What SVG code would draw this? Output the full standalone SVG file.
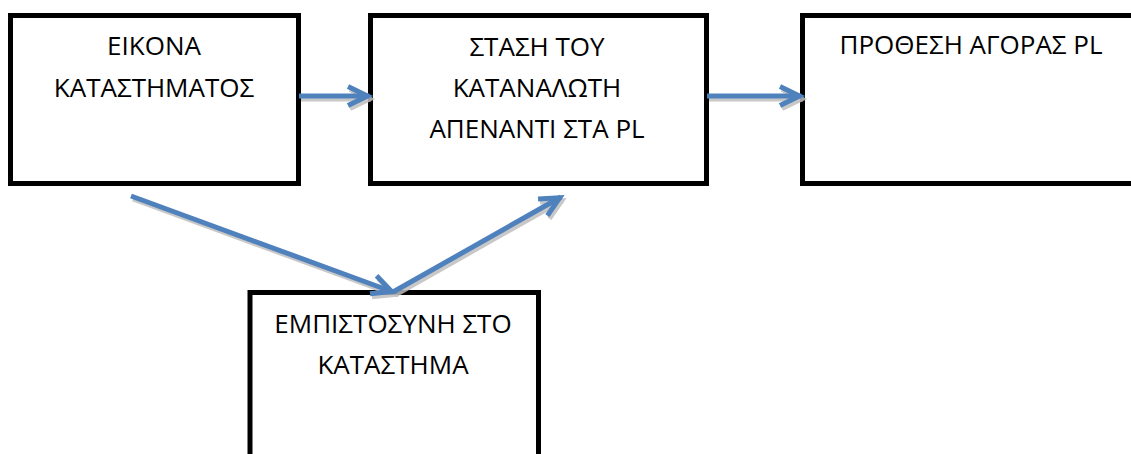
<svg xmlns="http://www.w3.org/2000/svg" width="1131" height="454" viewBox="0 0 1131 454">
  <style>
    .box { fill: #ffffff; stroke: #000000; stroke-width: 5; }
    .lbl { font-family: "Open Sans", "Liberation Sans", sans-serif; font-size: 26px; fill: #000000; text-anchor: middle; }
    .conn { fill: none; stroke: #4F81BD; stroke-width: 5; }
    .shadow { fill: none; stroke: #BFBFBF; stroke-width: 5; opacity: 0.85; }
  </style>
  <defs>
    <marker id="head" viewBox="-26 -14 30 28" markerWidth="30" markerHeight="28" refX="0" refY="0" orient="auto" markerUnits="userSpaceOnUse" overflow="visible">
      <path d="M -21 -9.5 L -1.5 0 L -21 9.5" fill="none" stroke="#4F81BD" stroke-width="5" stroke-linejoin="miter"/>
    </marker>
    <marker id="headShadow" viewBox="-26 -14 30 28" markerWidth="30" markerHeight="28" refX="0" refY="0" orient="auto" markerUnits="userSpaceOnUse" overflow="visible">
      <path d="M -21 -9.5 L -1.5 0 L -21 9.5" fill="none" stroke="#BFBFBF" stroke-width="5" stroke-linejoin="miter"/>
    </marker>
  </defs>
  <rect width="1131" height="454" fill="#ffffff"/>

  <g id="node-eikona">
    <rect class="box" x="10.5" y="15.5" width="288" height="168"/>
    <text class="lbl" x="154" y="55">ΕΙΚΟΝΑ</text>
    <text class="lbl" x="154" y="97">ΚΑΤΑΣΤΗΜΑΤΟΣ</text>
  </g>

  <g id="node-stasi">
    <rect class="box" x="370.5" y="15.5" width="336" height="168"/>
    <text class="lbl" x="537" y="56">ΣΤΑΣΗ ΤΟΥ</text>
    <text class="lbl" x="537" y="97">ΚΑΤΑΝΑΛΩΤΗ</text>
    <text class="lbl" x="537" y="138">ΑΠΕΝΑΝΤΙ ΣΤΑ PL</text>
  </g>

  <g id="node-prothesi">
    <rect class="box" x="802.5" y="15.5" width="340" height="168"/>
    <text class="lbl" x="971" y="54">ΠΡΟΘΕΣΗ ΑΓΟΡΑΣ PL</text>
  </g>

  <g id="node-empistosyni">
    <rect class="box" x="250" y="292.5" width="288.5" height="180"/>
    <text class="lbl" x="393" y="333">ΕΜΠΙΣΤΟΣΥΝΗ ΣΤΟ</text>
    <text class="lbl" x="393" y="374">ΚΑΤΑΣΤΗΜΑ</text>
  </g>

  <g id="connectors">
    <g transform="translate(2,3)">
      <path class="shadow" d="M 299 96 L 369 96" marker-end="url(#headShadow)"/>
      <path class="shadow" d="M 707 96 L 801 96" marker-end="url(#headShadow)"/>
      <path class="shadow" d="M 131 196 L 393 292" marker-end="url(#headShadow)"/>
      <path class="shadow" d="M 393 292 L 561 197" marker-end="url(#headShadow)"/>
    </g>
    <path class="conn" d="M 299 96 L 369 96" marker-end="url(#head)"/>
    <path class="conn" d="M 707 96 L 801 96" marker-end="url(#head)"/>
    <path class="conn" d="M 131 196 L 393 292" marker-end="url(#head)"/>
    <path class="conn" d="M 393 292 L 561 197" marker-end="url(#head)"/>
  </g>
</svg>
